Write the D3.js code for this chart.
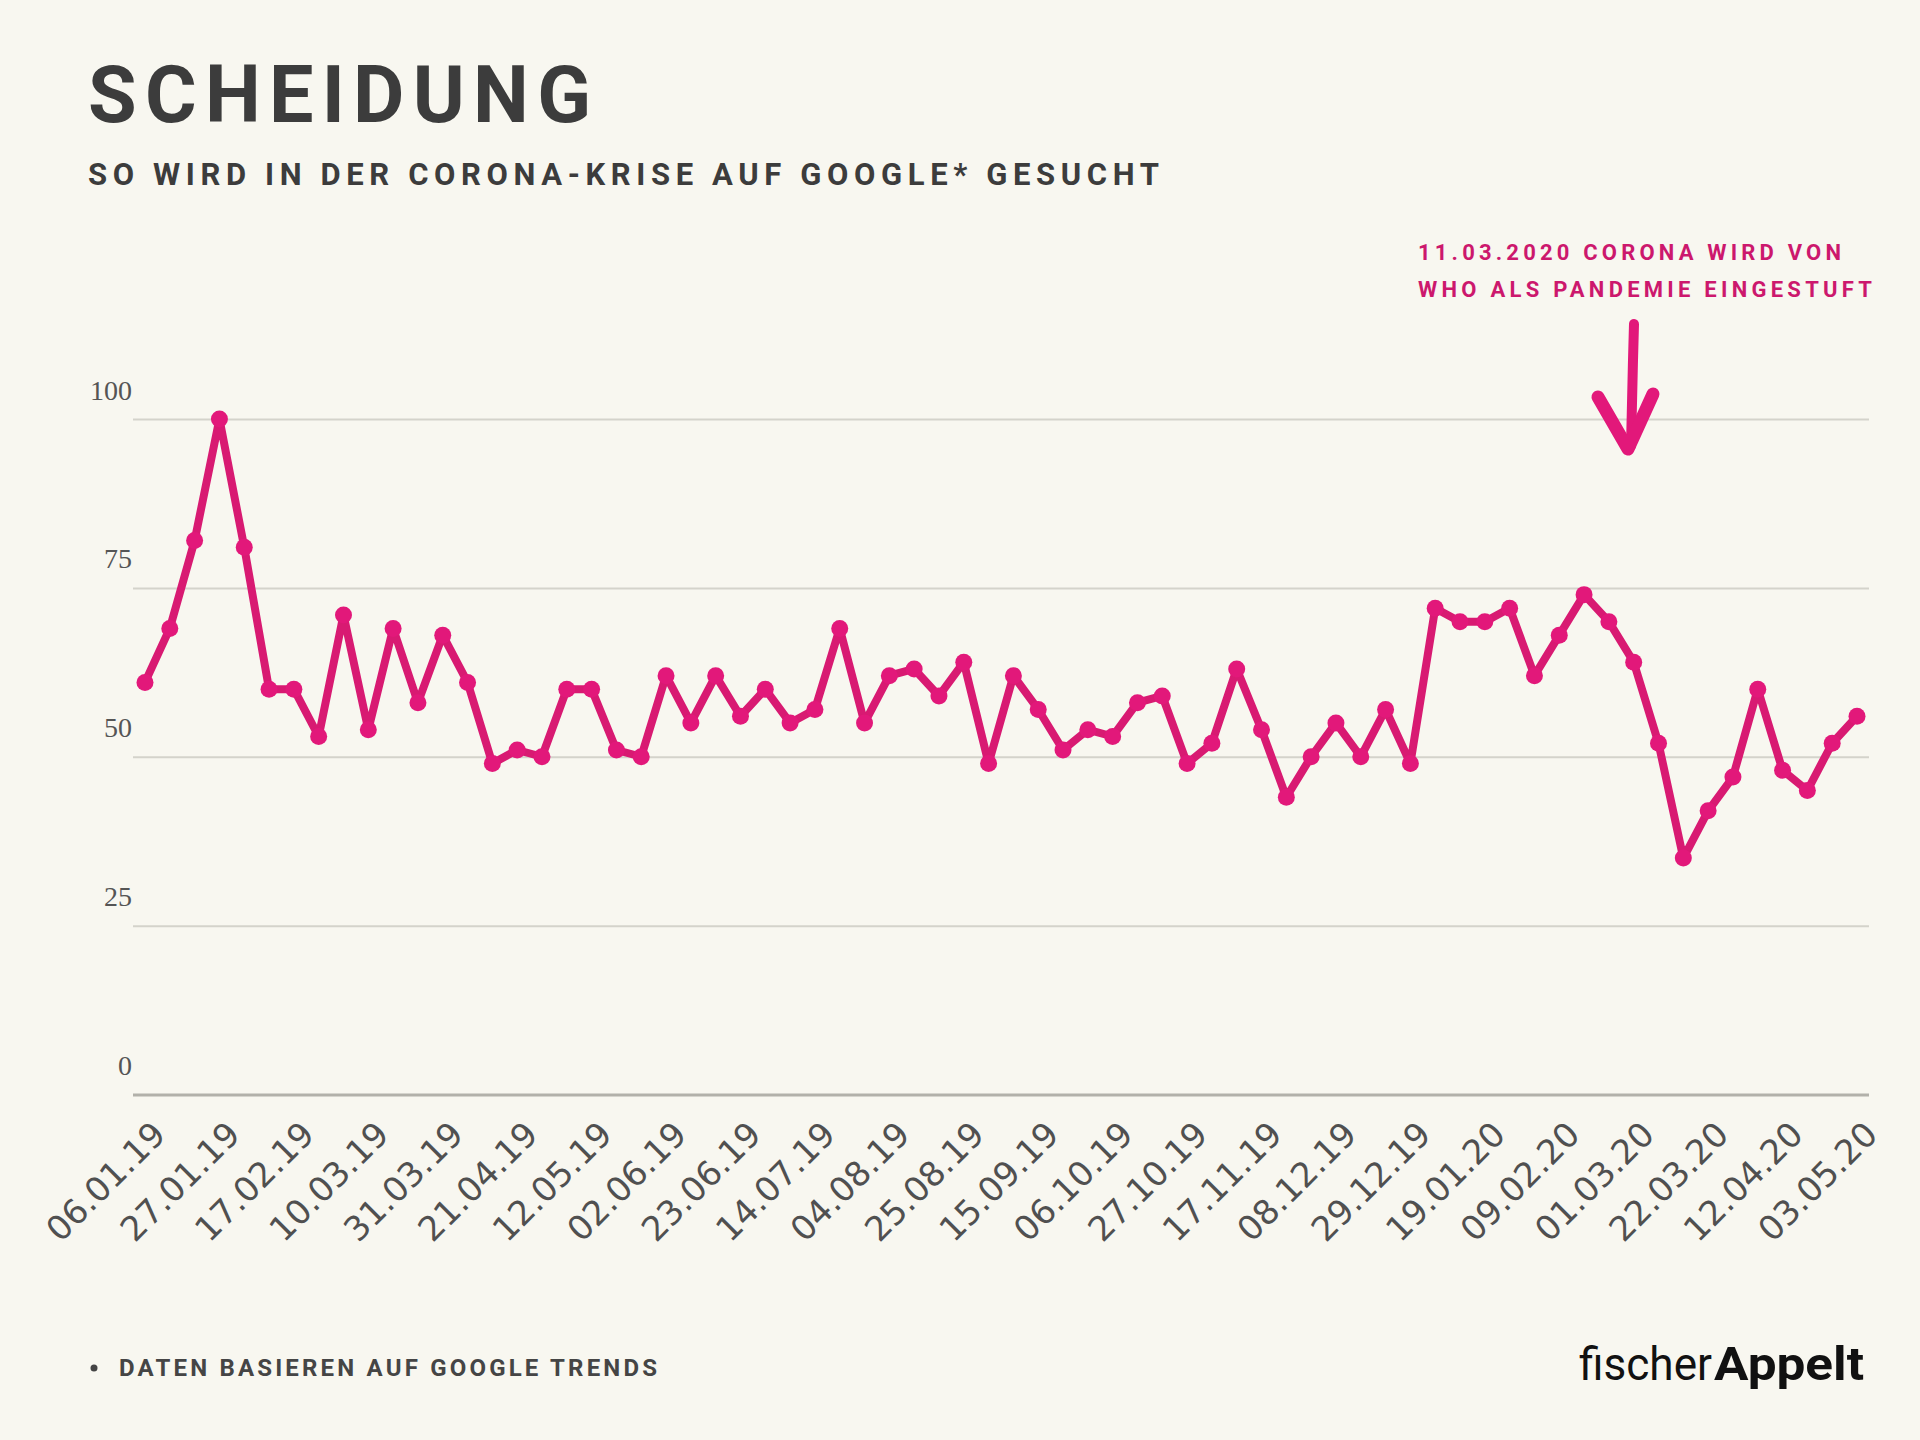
<!DOCTYPE html>
<html>
<head>
<meta charset="utf-8">
<script src="https://cdn.jsdelivr.net/npm/d3@7"></script>
<style>
  html, body { margin: 0; padding: 0; background: #f8f7f0; }
  svg { display: block; }
</style>
</head>
<body>
<svg id="chart" width="1920" height="1440"></svg>
<script>
// ---- data ----
const dates = [
  "06.01.19","13.01.19","20.01.19","27.01.19","03.02.19","10.02.19","17.02.19","24.02.19",
  "03.03.19","10.03.19","17.03.19","24.03.19","31.03.19","07.04.19","14.04.19","21.04.19",
  "28.04.19","05.05.19","12.05.19","19.05.19","26.05.19","02.06.19","09.06.19","16.06.19",
  "23.06.19","30.06.19","07.07.19","14.07.19","21.07.19","28.07.19","04.08.19","11.08.19",
  "18.08.19","25.08.19","01.09.19","08.09.19","15.09.19","22.09.19","29.09.19","06.10.19",
  "13.10.19","20.10.19","27.10.19","03.11.19","10.11.19","17.11.19","24.11.19","01.12.19",
  "08.12.19","15.12.19","22.12.19","29.12.19","05.01.20","12.01.20","19.01.20","26.01.20",
  "02.02.20","09.02.20","16.02.20","23.02.20","01.03.20","08.03.20","15.03.20","22.03.20",
  "29.03.20","05.04.20","12.04.20","19.04.20","26.04.20","03.05.20"
];
const values = [
  61,69,82,100,81,60,60,53,71,54,
  69,58,68,61,49,51,50,60,60,51,
  50,62,55,62,56,60,55,57,69,55,
  62,63,59,64,49,62,57,51,54,53,
  58,59,49,52,63,54,44,50,55,50,
  57,49,72,70,70,72,62,68,74,70,
  64,52,35,42,47,60,48,45,52,56
];
const xTickLabels = [
  "06.01.19","27.01.19","17.02.19","10.03.19","31.03.19","21.04.19","12.05.19","02.06.19",
  "23.06.19","14.07.19","04.08.19","25.08.19","15.09.19","06.10.19","27.10.19","17.11.19",
  "08.12.19","29.12.19","19.01.20","09.02.20","01.03.20","22.03.20","12.04.20","03.05.20"
];
const yTicks = [0, 25, 50, 75, 100];
const titleText = "SCHEIDUNG";
const subtitleText = "SO WIRD IN DER CORONA-KRISE AUF GOOGLE* GESUCHT";
const noteLines = ["11.03.2020 CORONA WIRD VON", "WHO ALS PANDEMIE EINGESTUFT"];
const footnoteText = "DATEN BASIEREN AUF GOOGLE TRENDS";

// ---- layout ----
const svg = d3.select("#chart");
const PINK = "#e2187a";
const LINE_PINK = "#d81a72";
const gridLeft = 133, gridRight = 1869;

const x = d3.scalePoint().domain(dates).range([145, 1857]);
const y = d3.scaleLinear().domain([0, 100]).range([1094.5, 419]);

// background
svg.append("rect").attr("width", 1920).attr("height", 1440).attr("fill", "#f8f7f0");

// title & subtitle
svg.append("text").text(titleText)
  .attr("x", 88).attr("y", 122)
  .attr("font-family", "Roboto, 'Open Sans', sans-serif")
  .attr("font-weight", 700).attr("font-size", 79)
  .attr("fill", "#3c3c3c")
  .attr("textLength", 503).attr("lengthAdjust", "spacing");

svg.append("text").text(subtitleText)
  .attr("x", 88).attr("y", 185)
  .attr("font-family", "Roboto, 'Open Sans', sans-serif")
  .attr("font-weight", 700).attr("font-size", 31)
  .attr("fill", "#3c3c3c")
  .attr("textLength", 1071).attr("lengthAdjust", "spacing");

// y grid via axis
const yAxis = d3.axisLeft(y).tickValues(yTicks).tickSize(0).tickFormat(d3.format("d"));
const gy = svg.append("g").attr("transform", `translate(${gridLeft},0)`).call(yAxis);
gy.select(".domain").remove();
gy.selectAll(".tick line").remove();
gy.selectAll(".tick").append("line")
  .attr("x1", 0).attr("x2", gridRight - gridLeft)
  .attr("y1", 0).attr("y2", 0)
  .attr("stroke", d => d === 0 ? "#b2b1aa" : "#d4d3cb")
  .attr("stroke-width", d => d === 0 ? 3 : 2);
gy.selectAll(".tick text")
  .attr("x", -1).attr("y", -20).attr("dy", 0)
  .attr("text-anchor", "end")
  .attr("font-family", "'Liberation Serif', 'DejaVu Serif', serif")
  .attr("font-size", 28)
  .attr("fill", "#555");

// x axis labels
const xAxis = d3.axisBottom(x).tickValues(xTickLabels).tickSize(0);
const gx = svg.append("g").attr("transform", `translate(0,${y(0)})`).call(xAxis);
gx.select(".domain").remove();
gx.selectAll(".tick text")
  .attr("x", 0).attr("y", 0).attr("dy", 0)
  .attr("text-anchor", "end")
  .attr("transform", "translate(22,42) rotate(-45)")
  .attr("font-family", "'DejaVu Sans', Verdana, sans-serif")
  .attr("font-size", 34)
  .attr("fill", "#505050");

// line
const line = d3.line().x((d, i) => x(dates[i])).y(d => y(d));
svg.append("path").datum(values)
  .attr("d", line)
  .attr("fill", "none")
  .attr("stroke", LINE_PINK)
  .attr("stroke-width", 8)
  .attr("stroke-linejoin", "round")
  .attr("stroke-linecap", "round");

svg.append("g").selectAll("circle").data(values).join("circle")
  .attr("cx", (d, i) => x(dates[i]))
  .attr("cy", d => y(d))
  .attr("r", 8.5)
  .attr("fill", PINK);

// annotation
const note = svg.append("g");
note.selectAll("text").data(noteLines).join("text")
  .text(d => d)
  .attr("x", 1418)
  .attr("y", (d, i) => 260 + i * 37)
  .attr("font-family", "Roboto, 'Open Sans', sans-serif")
  .attr("font-weight", 700).attr("font-size", 22)
  .attr("fill", "#cc186d")
  .attr("textLength", (d, i) => i === 0 ? 423 : 454)
  .attr("lengthAdjust", "spacing");

// hand-drawn arrow
const arrow = svg.append("g").attr("fill", "none").attr("stroke", PINK)
  .attr("stroke-linecap", "round").attr("stroke-linejoin", "round");
arrow.append("path").attr("d", "M1634,324 L1633,360 L1631,446").attr("stroke-width", 10);
arrow.append("path").attr("d", "M1598,397 L1628,449 L1653,394").attr("stroke-width", 13);

// footnote
svg.append("circle").attr("cx", 94).attr("cy", 1368).attr("r", 3.5).attr("fill", "#444");
svg.append("text").text(footnoteText)
  .attr("x", 119).attr("y", 1376)
  .attr("font-family", "Roboto, 'Open Sans', sans-serif")
  .attr("font-weight", 700).attr("font-size", 24)
  .attr("fill", "#454545")
  .attr("textLength", 538).attr("lengthAdjust", "spacing");

// logo
const logo = svg.append("g").attr("font-family", "Roboto, 'Liberation Sans', sans-serif").attr("fill", "#111");
logo.append("text").text("fischer")
  .attr("x", 1579).attr("y", 1380).attr("font-size", 47).attr("font-weight", 400)
  .attr("textLength", 133).attr("lengthAdjust", "spacingAndGlyphs");
logo.append("text").text("Appelt")
  .attr("x", 1714).attr("y", 1380).attr("font-size", 47).attr("font-weight", 700)
  .attr("textLength", 150).attr("lengthAdjust", "spacingAndGlyphs");
</script>
</body>
</html>
